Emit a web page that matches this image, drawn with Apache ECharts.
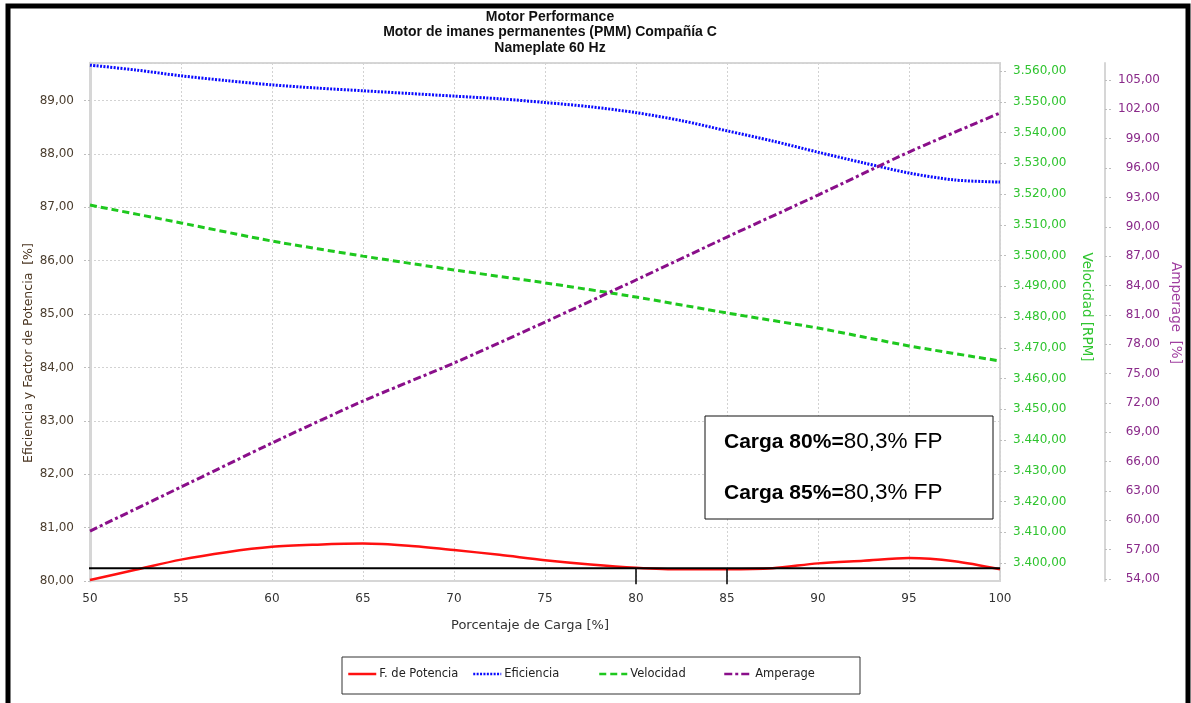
<!DOCTYPE html>
<html><head><meta charset="utf-8">
<script src="https://cdn.jsdelivr.net/npm/echarts@6/dist/echarts.min.js"></script>
<style>html,body{margin:0;padding:0;background:#fff}#c{width:1191px;height:703px}</style>
</head><body><div id="c"></div>
<script>
// ---- data ----
const loadFine = [50,52.5,55,57.5,60,62.5,65,67.5,70,72.5,75,77.5,80,82.5,85,87.5,90,92.5,95,97.5,100];
const potencia = [80.02,80.21,80.40,80.54,80.64,80.68,80.70,80.66,80.58,80.49,80.39,80.31,80.25,80.22,80.22,80.24,80.33,80.38,80.43,80.37,80.22];
const eficiencia = [89.66,89.57,89.46,89.37,89.29,89.23,89.18,89.13,89.08,89.03,88.96,88.88,88.77,88.62,88.43,88.24,88.03,87.83,87.64,87.51,87.47];
const loadCoarse = [50,55,60,65,70,75,80,85,90,95,100];
const velocidad = [3516.4,3510.6,3504.7,3499.8,3495.3,3491.1,3486.5,3481.3,3476.4,3470.6,3465.7];
const amperage = [58.90,63.40,67.90,72.19,76.07,80.26,84.56,88.95,93.24,97.64,101.63];
// reference marks (black lines)
const fpRef = 80.24;
const refLoads = [80, 85];
// axis ranges
const xRange = [50, 100, 5];
const leftRange = [80, 89.7, 1];
const velRange = [3400, 3560, 10];
const ampRange = [54, 105, 3];
const seriesNames = ['F. de Potencia','Eficiencia','Velocidad','Amperage'];

function fmt(v){
  const s = Number(v).toFixed(2).split('.');
  const i = s[0].replace(/\B(?=(\d{3})+(?!\d))/g,'.');
  return i + ',' + s[1];
}
const pairs = (xs, ys) => xs.map((x,i)=>[x, ys[i]]);
const FONT = 'DejaVu Sans';
const gridBase = {left:90, right:191, containLabel:false};
const hiddenX = (g)=>({type:'value', gridIndex:g, min:xRange[0], max:xRange[1], show:false});

const chart = echarts.init(document.getElementById('c'), null, {renderer:'canvas'});
const legendLefts = [347, 472, 598, 723];
chart.setOption({
  backgroundColor:'#fff',
  animation:false,
  title:{
    text:'Motor Performance\nMotor de imanes permanentes (PMM) Compañía C\nNameplate 60 Hz',
    left:545, top:4, textAlign:'center',
    textStyle:{fontFamily:'Liberation Sans', fontWeight:'bold', fontSize:14, lineHeight:15.5, color:'#111'}
  },
  grid:[
    Object.assign({top:63, bottom:122, show:true, borderColor:'#d6d6d6', borderWidth:2, backgroundColor:'#fff'}, gridBase),
    Object.assign({top:71, bottom:140}, gridBase),
    Object.assign({top:80, bottom:124}, gridBase)
  ],
  xAxis:[
    {type:'value', gridIndex:0, min:xRange[0], max:xRange[1], interval:xRange[2],
     axisLine:{show:true, lineStyle:{color:'#d6d6d6', width:2}},
     axisTick:{show:false},
     axisLabel:{margin:12, color:'#333', fontFamily:FONT, fontSize:12},
     splitLine:{show:true, lineStyle:{color:'#d2d2d2', type:[2,2], width:1}}},
    hiddenX(1), hiddenX(2)
  ],
  yAxis:[
    {type:'value', gridIndex:0, position:'left', min:leftRange[0], max:leftRange[1], interval:leftRange[2],
     axisLine:{show:true, lineStyle:{color:'#d6d6d6', width:3}},
     axisTick:{show:true, length:8, lineStyle:{color:'#bdbdbd', type:[2,2]}},
     axisLabel:{showMaxLabel:false, margin:16, color:'#4a3d2e', fontFamily:FONT, fontSize:12, formatter:fmt},
     splitLine:{show:true, lineStyle:{color:'#d2d2d2', type:[2,2], width:1}}},
    {type:'value', gridIndex:1, position:'right', min:velRange[0], max:velRange[1], interval:velRange[2],
     axisLine:{show:false},
     axisTick:{show:true, length:8, lineStyle:{color:'#bdbdbd', type:[2,2]}},
     axisLabel:{margin:13, color:'#2fc42f', fontFamily:FONT, fontSize:12, formatter:fmt},
     splitLine:{show:false}},
    {type:'value', gridIndex:2, position:'right', offset:105, min:ampRange[0], max:ampRange[1], interval:ampRange[2],
     axisLine:{show:false},
     axisTick:{show:true, length:7, lineStyle:{color:'#bdbdbd', type:[2,2]}},
     axisLabel:{margin:55, align:'right', color:'#8a2a8a', fontFamily:FONT, fontSize:12, formatter:fmt},
     splitLine:{show:false}},
    {type:'value', gridIndex:0, position:'right', offset:105, min:0, max:1,
     axisLine:{show:true, onZero:false, lineStyle:{color:'#d6d6d6', width:2}},
     axisTick:{show:false}, axisLabel:{show:false}, splitLine:{show:false}}
  ],
  legend: seriesNames.map((n,i)=>({
    data:[n], left:legendLefts[i], top:668, itemWidth:28, itemHeight:10, padding:0,
    selectedMode:false,
    itemStyle:{opacity:0},
    lineStyle:{width:2.5},
    textStyle:{fontFamily:FONT, fontSize:11.5, color:'#222', padding:[0,0,0,-2]}
  })),
  series:[
    {name:'F. de Potencia', type:'line', xAxisIndex:0, yAxisIndex:0, data:pairs(loadFine, potencia),
     smooth:0.3, symbol:'none', lineStyle:{color:'#ff1010', width:2.5}, itemStyle:{color:'#ff1010'}, z:5},
    {name:'Eficiencia', type:'line', xAxisIndex:0, yAxisIndex:0, data:pairs(loadFine, eficiencia),
     smooth:0.3, symbol:'none', lineStyle:{color:'#0a0aff', width:3, type:[2,1.4]}, itemStyle:{color:'#0a0aff'}, z:4},
    {name:'Velocidad', type:'line', xAxisIndex:1, yAxisIndex:1, data:pairs(loadCoarse, velocidad),
     smooth:0.2, symbol:'none', lineStyle:{color:'#1ec81e', width:3, type:[7,4]}, itemStyle:{color:'#1ec81e'}, z:4},
    {name:'Amperage', type:'line', xAxisIndex:2, yAxisIndex:2, data:pairs(loadCoarse, amperage),
     smooth:0.2, symbol:'none', lineStyle:{color:'#8a0f8a', width:3, type:[8,3,3,3]}, itemStyle:{color:'#8a0f8a'}, z:4},
    {name:'ref-h', type:'line', xAxisIndex:0, yAxisIndex:0, data:[[49.78, fpRef],[100, fpRef]],
     symbol:'none', silent:true, clip:false, lineStyle:{color:'#000', width:2}, z:6},
    ...refLoads.map(x=>({name:'ref-v'+x, type:'line', xAxisIndex:0, yAxisIndex:0, data:[[x, fpRef],[x, 79.94]],
     symbol:'none', silent:true, clip:false, lineStyle:{color:'#000', width:1.5}, z:6}))
  ],
  graphic:[
    {type:'rect', shape:{x:8, y:6, width:1180, height:720}, style:{fill:'none', stroke:'#000', lineWidth:5}, silent:true, z:100},
    {type:'rect', shape:{x:342, y:657, width:518, height:37}, style:{fill:'none', stroke:'#333', lineWidth:1}, silent:true},
    {type:'rect', shape:{x:705, y:416, width:288, height:103}, style:{fill:'#fff', stroke:'#111', lineWidth:1}, silent:true, z:50},
    {type:'text', x:724, y:442, z:51, silent:true, style:{
      text:'{b|Carga 80%=}{n|80,3% FP}', verticalAlign:'middle', align:'left',
      rich:{b:{fontFamily:'Liberation Sans', fontWeight:'bold', fontSize:21, fill:'#000'}, n:{fontFamily:'Liberation Sans', fontSize:22.5, fill:'#000'}}}},
    {type:'text', x:724, y:493, z:51, silent:true, style:{
      text:'{b|Carga 85%=}{n|80,3% FP}', verticalAlign:'middle', align:'left',
      rich:{b:{fontFamily:'Liberation Sans', fontWeight:'bold', fontSize:21, fill:'#000'}, n:{fontFamily:'Liberation Sans', fontSize:22.5, fill:'#000'}}}},
    {type:'text', x:29, y:353, rotation:Math.PI/2, silent:true, style:{
      text:'Eficiencia y Factor de Potencia  [%]', align:'center', verticalAlign:'middle',
      fontFamily:FONT, fontSize:12.5, fill:'#4a3520'}},
    {type:'text', x:1086, y:307, rotation:-Math.PI/2, silent:true, style:{
      text:'Velocidad [RPM]', align:'center', verticalAlign:'middle',
      fontFamily:FONT, fontSize:13.5, fill:'#2fc42f'}},
    {type:'text', x:1175, y:313, rotation:-Math.PI/2, silent:true, style:{
      text:'Amperage  [%]', align:'center', verticalAlign:'middle',
      fontFamily:FONT, fontSize:13.5, fill:'#a040a0'}},
    {type:'text', x:530, y:626, silent:true, style:{
      text:'Porcentaje de Carga [%]', align:'center', verticalAlign:'middle',
      fontFamily:FONT, fontSize:13, fill:'#333'}}
  ]
});
</script></body></html>
